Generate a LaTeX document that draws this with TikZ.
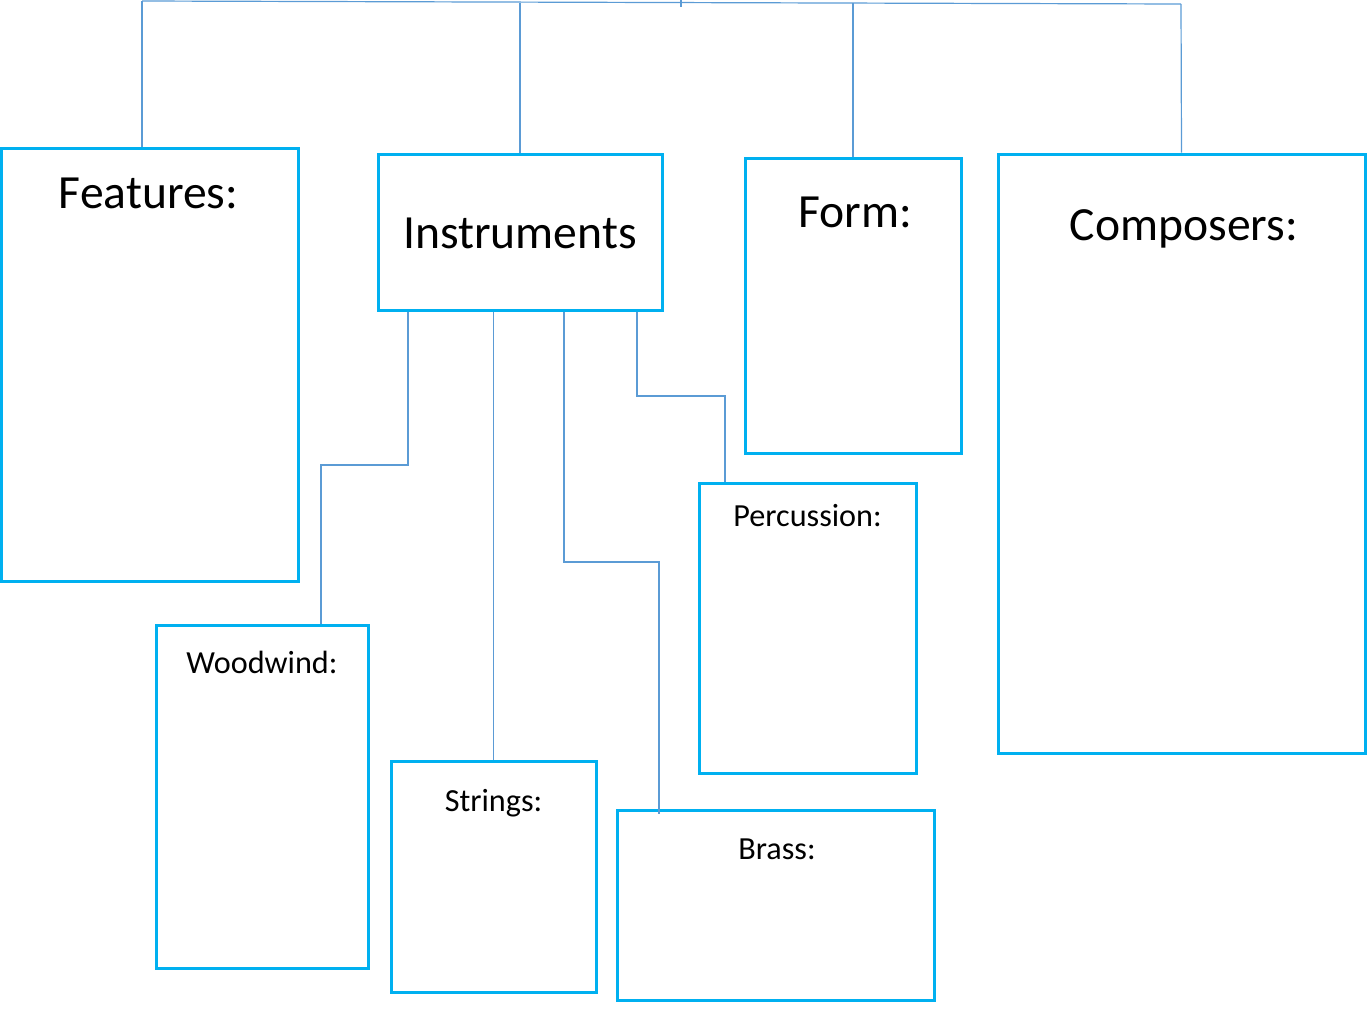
\documentclass[tikz,border=0pt]{standalone}
\usepackage{fontspec}
\setmainfont{Carlito}
\usetikzlibrary{fit}
\definecolor{boxblue}{HTML}{00B0F0}
\definecolor{linkblue}{HTML}{5B9BD5}
\tikzset{
  box/.style={draw=boxblue, line width=1.5pt, inner sep=0pt},
  link/.style={draw=linkblue, line width=0.6pt},
  head/.style={font=\fontsize{23.8}{28}\selectfont, anchor=base, inner sep=0pt},
  subhead/.style={font=\fontsize{16.1}{19}\selectfont, anchor=base, inner sep=0pt}
}
\begin{document}
\begin{tikzpicture}[x=0.5pt,y=-0.5pt]
            \useasboundingbox (0,0) rectangle (1370,1008);
            % the four main boxes
            \node[box, fit={(1,148) (298,581)}] (feat) {};
            \node[box, fit={(378,154) (662,310)}] (inst) {};
            \node[box, fit={(745,158) (961,453)}] (form) {};
            \node[box, fit={(998,154) (1365,753)}] (comp) {};
            % the instrument families
            \node[box, fit={(156,625) (368,968)}] (wood) {};
            \node[box, fit={(391,761) (596,992)}] (str) {};
            \node[box, fit={(617,810) (934,1000)}] (brass) {};
            \node[box, fit={(699,483) (916,773)}] (perc) {};
            % headings
            \node[head] (featT) at (148.5,208) {Features:};
            \node[head] (instT) at (520,248) {Instruments};
            \node[head] (formT) at (855,227) {Form:};
            \node[head] (compT) at (1184,240) {Composers:};
            \node[subhead] (woodT) at (262,673) {Woodwind:};
            \node[subhead] (strT) at (493.5,811) {Strings:};
            \node[subhead] (brassT) at (777,859) {Brass:};
            \node[subhead] (percT) at (807.5,526) {Percussion:};
            % bar along the top
            \coordinate (barL) at (142,1);
            \coordinate (barM) at (681,3);
            \coordinate (barR) at (1181,4);
            \draw[link] (barL) -- (barR);
            \draw[link] (681,0) -- (681,7);
            \draw[link] (barL) -- (barL |- feat.north);
            \draw[link] (inst.north |- barM) -- (inst.north);
            \draw[link] (form.north |- barM) -- (form.north);
            \draw[link] (barR) -- (comp.north);
            % from instruments down to each family
            \coordinate (kW) at (321,465);
            \coordinate (kB) at (659,562);
            \coordinate (kP) at (725,396);
            \draw[link] (inst.south -| 408,0) |- (kW) -- (kW |- wood.north);
            \draw[link] (inst.south -| str.north) -- (str.north);
            \draw[link] (inst.south -| 564,0) |- (kB) -- ([yshift=-2.5pt]kB |- brass.north);
            \draw[link] (inst.south -| 637,0) |- (kP) -- (kP |- perc.north);
        \end{tikzpicture}
\end{document}
